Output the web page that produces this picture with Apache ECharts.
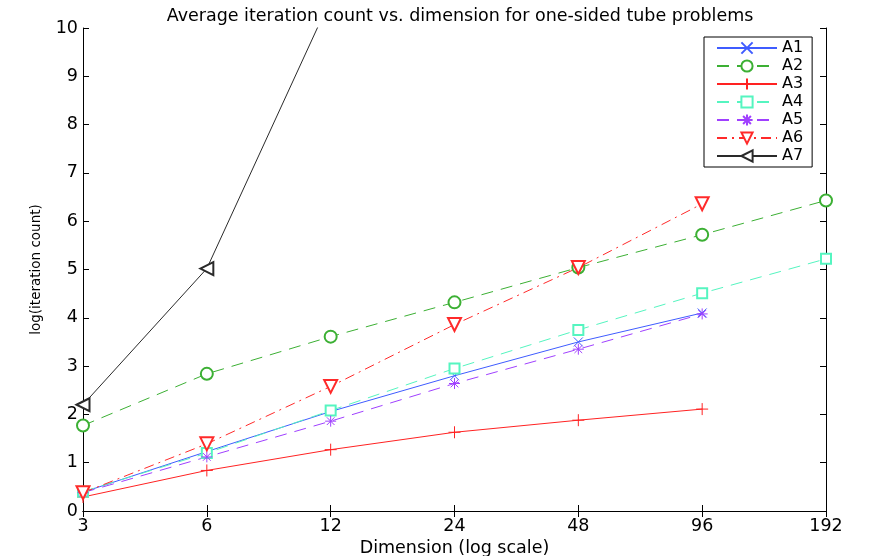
<!DOCTYPE html>
<html>
<head>
<meta charset="utf-8">
<script src="https://cdn.jsdelivr.net/npm/echarts@6/dist/echarts.min.js"></script>
<style>
  html, body { margin: 0; padding: 0; background: #fff; }
  #chart { width: 872px; height: 556px; }
</style>
</head>
<body>
<div id="chart"></div>
<script>
// problem dimensions (evenly spaced on a log2 scale)
var dims = ['3', '6', '12', '24', '48', '96', '192'];
var yTicks = [0, 1, 2, 3, 4, 5, 6, 7, 8, 9, 10];

// log(iteration count) per method
var a1 = [0.39, 1.23, 2.06, 2.80, 3.50, 4.10];
var a2 = [1.77, 2.84, 3.61, 4.32, 5.04, 5.72, 6.43];
var a3 = [0.29, 0.84, 1.27, 1.63, 1.88, 2.11];
var a4 = [0.40, 1.20, 2.08, 2.95, 3.75, 4.51, 5.22];
var a5 = [0.38, 1.12, 1.86, 2.64, 3.35, 4.08];
var a6 = [0.38, 1.39, 2.58, 3.86, 5.04, 6.36];
var a7 = [2.20, 5.02, 10.6];

var FONT = 'DejaVu Sans';
var symX = 'path://M0,0L10,10M10,0L0,10';
var symPlus = 'path://M5,0L5,10M0,5L10,5';
var symStar = 'path://M5,0L5,10M0,5L10,5M1.5,1.5L8.5,8.5M8.5,1.5L1.5,8.5';

function mkSeries(name, data, color, lineType, symbol, size, rotate) {
	return {
		name: name,
		type: 'line',
		data: data,
		symbol: symbol,
		symbolSize: size,
		symbolRotate: rotate || 0,
		showAllSymbol: true,
		clip: true,
		animation: false,
		lineStyle: { color: color, width: 1, type: lineType },
		itemStyle: { color: color, borderColor: color, borderWidth: 1 },
		emphasis: { disabled: true }
	};
}

var chart = echarts.init(document.getElementById('chart'));

var option = {
	backgroundColor: '#fff',
	title: {
		text: 'Average iteration count vs. dimension for one-sided tube problems',
		left: 455, textAlign: 'center', top: 2,
		textStyle: { fontFamily: FONT, fontSize: 17.5, fontWeight: 'normal', color: '#000' }
	},
	legend: {
		orient: 'vertical',
		left: 704, top: 37,
		padding: [3, 9, 3, 12],
		itemWidth: 60, itemHeight: 14, itemGap: 2,
		borderColor: '#000', borderWidth: 1,
		backgroundColor: '#fff',
		textStyle: { fontFamily: FONT, fontSize: 16, color: '#000' },
		data: ['A1', 'A2', 'A3', 'A4', 'A5', 'A6', 'A7']
	},
	grid: { left: 83, right: 46, top: 28, bottom: 45, outerBoundsMode: 'none' },
	xAxis: [{
		type: 'category',
		data: dims,
		boundaryGap: false,
		name: 'Dimension (log scale)',
		nameLocation: 'middle',
		nameGap: 22,
		nameTextStyle: { fontFamily: FONT, fontSize: 17.5, color: '#000' },
		axisLine: { lineStyle: { color: '#000', width: 1 } },
		axisTick: { inside: true, length: 6, lineStyle: { color: '#000' } },
		axisLabel: { fontFamily: FONT, fontSize: 17.5, color: '#000', margin: 6 },
		splitLine: { show: false }
	}, {
		type: 'category',
		data: dims,
		boundaryGap: false,
		position: 'top',
		axisLine: { lineStyle: { color: '#000', width: 1 } },
		axisTick: { inside: true, length: 6, lineStyle: { color: '#000' } },
		axisLabel: { show: false },
		splitLine: { show: false }
	}],
	yAxis: [{
		type: 'value',
		min: yTicks[0], max: yTicks[yTicks.length - 1], interval: 1,
		name: 'log(iteration count)',
		nameLocation: 'middle',
		nameGap: 40,
		nameTextStyle: { fontFamily: FONT, fontSize: 13.5, color: '#000' },
		axisLine: { show: true, lineStyle: { color: '#000', width: 1 } },
		axisTick: { show: true, inside: true, length: 6, lineStyle: { color: '#000' } },
		axisLabel: { fontFamily: FONT, fontSize: 17.5, color: '#000', margin: 5 },
		splitLine: { show: false }
	}, {
		type: 'value',
		min: yTicks[0], max: yTicks[yTicks.length - 1], interval: 1,
		position: 'right',
		axisLine: { show: true, lineStyle: { color: '#000', width: 1 } },
		axisTick: { show: true, inside: true, length: 6, lineStyle: { color: '#000' } },
		axisLabel: { show: false },
		splitLine: { show: false }
	}],
	series: [
		mkSeries('A1', a1, '#3f5cff', 'solid', symX, 9),
		mkSeries('A2', a2, '#3cb034', [12, 8], 'emptyCircle', 12),
		mkSeries('A3', a3, '#ff2222', 'solid', symPlus, 12),
		mkSeries('A4', a4, '#55f5c0', [12, 8], 'emptyRect', 10),
		mkSeries('A5', a5, '#a040ff', [12, 8], symStar, 11),
		mkSeries('A6', a6, '#ff2a2a', [10, 5, 2, 5], 'emptyTriangle', 13, 180),
		mkSeries('A7', a7, '#2a2a2a', 'solid', 'emptyTriangle', 13, 90)
	]
};

chart.setOption(option);
</script>
</body>
</html>
